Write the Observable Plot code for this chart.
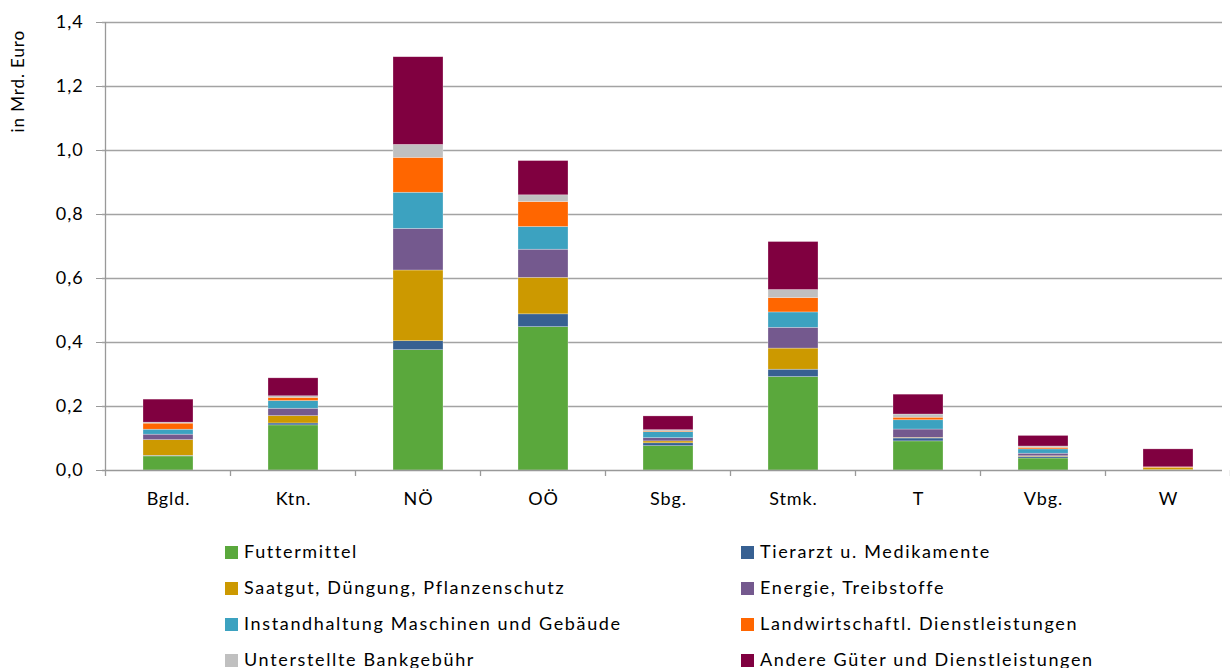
<!DOCTYPE html>
<html>
<head>
<meta charset="utf-8">
<script src="https://cdn.jsdelivr.net/npm/d3@7"></script>
<script src="https://cdn.jsdelivr.net/npm/@observablehq/plot@0.6"></script>
<style>
  html, body { margin: 0; padding: 0; background: #fff; }
  #wrap { position: relative; width: 1230px; height: 668px; font-family: Lato, "Open Sans", sans-serif; color: #000; }
  #chart { position: absolute; left: 0; top: 0; }
  #chart svg text { letter-spacing: 0.9px; }
  #legend { position: absolute; left: 0; top: 533px; width: 1230px; }
  .item { position: absolute; height: 36px; line-height: 36px; font-size: 18px; white-space: nowrap; letter-spacing: 1.65px; }
  .sw { display: inline-block; width: 13px; height: 13px; margin-right: 6px; vertical-align: -1px; }
</style>
</head>
<body>
<div id="wrap">
  <div id="chart"></div>
  <div id="legend"></div>
</div>
<script>
const categories = ["Bgld.", "Ktn.", "NÖ", "OÖ", "Sbg.", "Stmk.", "T", "Vbg.", "W"];
const seriesNames = [
  "Futtermittel",
  "Tierarzt u. Medikamente",
  "Saatgut, Düngung, Pflanzenschutz",
  "Energie, Treibstoffe",
  "Instandhaltung Maschinen und Gebäude",
  "Landwirtschaftl. Dienstleistungen",
  "Unterstellte Bankgebühr",
  "Andere Güter und Dienstleistungen"
];
const seriesColors = ["#5aa83c", "#376092", "#cc9900", "#74598e", "#3ca2c0", "#ff6600", "#c0c0c0", "#800040"];

const futtermittel   = [0.044, 0.141, 0.376, 0.448, 0.076, 0.292, 0.091, 0.0375, 0.001];
const tierarzt       = [0.002, 0.006, 0.028, 0.040, 0.009, 0.023, 0.009, 0.005, 0.000];
const saatgut        = [0.049, 0.023, 0.221, 0.114, 0.006, 0.066, 0.002, 0.002, 0.007];
const energie        = [0.017, 0.023, 0.130, 0.088, 0.010, 0.065, 0.026, 0.008, 0.000];
const instandhaltung = [0.0155, 0.024, 0.113, 0.071, 0.019, 0.048, 0.029, 0.0135, 0.000];
const dienstleistung = [0.019, 0.010, 0.109, 0.078, 0.002, 0.045, 0.008, 0.005, 0.002];
const bankgebuehr    = [0.003, 0.005, 0.0405, 0.021, 0.004, 0.025, 0.010, 0.004, 0.000];
const andere         = [0.072, 0.056, 0.274, 0.107, 0.043, 0.150, 0.062, 0.033, 0.056];

const yTicks = [0, 0.2, 0.4, 0.6, 0.8, 1.0, 1.2, 1.4];
const yLabel = "in Mrd. Euro";

const seriesValues = [futtermittel, tierarzt, saatgut, energie, instandhaltung, dienstleistung, bankgebuehr, andere];
const rows = [];
categories.forEach((c, i) => {
  seriesNames.forEach((s, j) => {
    rows.push({ region: c, series: s, value: seriesValues[j][i] });
  });
});

const fmt = d => d3.format(".1f")(d).replace(".", ",");

const plot = Plot.plot({
  width: 1230,
  height: 520,
  marginTop: 22,
  marginBottom: 50,
  marginLeft: 102,
  marginRight: 8,
  style: { fontFamily: "Lato, 'Open Sans', sans-serif", fontSize: "18px", color: "#000", background: "#fff" },
  x: { domain: categories, range: [102, 1233], paddingInner: 0.6, paddingOuter: 0.3, label: null },
  y: { domain: [0, 1.4], label: null },
  color: { domain: seriesNames, range: seriesColors },
  marks: [
    Plot.ruleY(yTicks.slice(1), { stroke: "#a3a3a3", strokeWidth: 1.3 }),
    Plot.barY(rows, Plot.stackY({ order: seriesNames }, {
      x: "region", y: "value", z: "series", fill: "series",
      stroke: "#ffffff", strokeOpacity: 0.45, strokeWidth: 0.6
    })),
    Plot.ruleY([0], { stroke: "#999999", strokeWidth: 1.6 }),
    Plot.axisY({ ticks: yTicks, tickFormat: fmt, tickSize: 6, tickPadding: 13, stroke: "#999", fontSize: 18 }),
    Plot.axisX({ tickSize: 0, tickPadding: 22, fontSize: 18 })
  ]
});

document.getElementById("chart").appendChild(plot);

// y-axis vertical line and category boundary ticks via the plot's scales
const svg = d3.select(plot);
const xs = plot.scale("x");
const ys = plot.scale("y");
const step = xs.step != null ? xs.step : (xs.range[1] - xs.range[0]) / categories.length;
const bw = xs.bandwidth;
const boundaries = categories.map(c => xs.apply(c) - (step - bw) / 2);
boundaries.push(xs.apply(categories[categories.length - 1]) + bw + (step - bw) / 2);
const y0 = ys.apply(0), y1 = ys.apply(1.4);
svg.append("line")
  .attr("x1", boundaries[0]).attr("x2", boundaries[0])
  .attr("y1", y1).attr("y2", y0)
  .attr("stroke", "#999").attr("stroke-width", 1.3);
svg.append("g").selectAll("line").data(boundaries).join("line")
  .attr("x1", d => d).attr("x2", d => d)
  .attr("y1", y0).attr("y2", y0 + 6)
  .attr("stroke", "#999").attr("stroke-width", 1.3);
svg.append("text")
  .attr("transform", `translate(20, ${(ys.apply(1.43) + ys.apply(1.0)) / 2}) rotate(-90)`)
  .attr("text-anchor", "middle")
  .attr("dominant-baseline", "middle")
  .attr("font-size", 17)
  .attr("fill", "#000")
  .text(yLabel);

// legend
const legend = document.getElementById("legend");
const colLeft = [225, 741];
seriesNames.forEach((s, j) => {
  const div = document.createElement("div");
  div.className = "item";
  div.style.left = colLeft[j % 2] + "px";
  div.style.top = (Math.floor(j / 2) * 36) + "px";
  const sw = document.createElement("span");
  sw.className = "sw";
  sw.style.background = seriesColors[j];
  div.appendChild(sw);
  div.appendChild(document.createTextNode(s));
  legend.appendChild(div);
});
</script>
</body>
</html>
